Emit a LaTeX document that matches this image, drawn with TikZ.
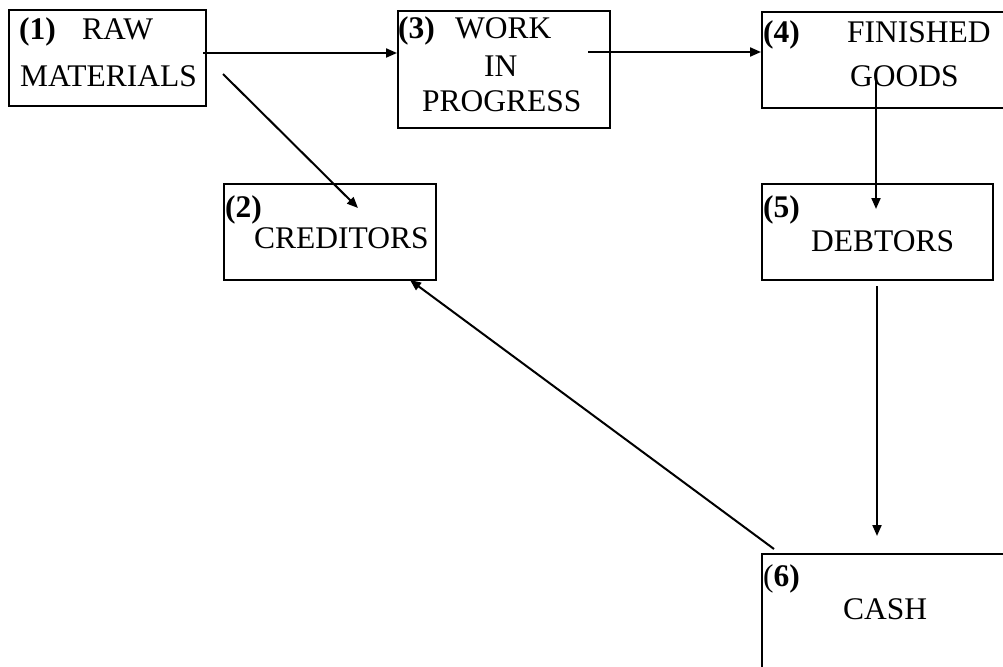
\documentclass[tikz,border=0pt]{standalone}
\usepackage{fontspec}
\setmainfont{Liberation Serif}
\usetikzlibrary{arrows.meta}
\tikzset{
  box/.style={draw=black, line width=2pt, anchor=north west, inner sep=0pt},
  txt/.style={anchor=base west, inner sep=0pt, font=\fontsize{31.5}{38}\selectfont},
  conn/.style={line width=2pt, -{Triangle[length=11pt,width=9pt]}},
}
\begin{document}
\begin{tikzpicture}[x=1pt,y=-1pt]
\clip (0,0) rectangle (1003,666);
\fill[white] (0,0) rectangle (1003,666);
% boxes
\node[box, minimum width=197pt, minimum height=96pt] (b1) at (8,9) {};
\node[box, minimum width=212pt, minimum height=117pt] (b3) at (397,10) {};
\node[box, minimum width=254pt, minimum height=96pt] (b4) at (761,11) {};
\node[box, minimum width=212pt, minimum height=96pt] (b2) at (223,183) {};
\node[box, minimum width=231pt, minimum height=96pt] (b5) at (761,183) {};
\node[box, minimum width=254pt, minimum height=147pt] (b6) at (761,553) {};
% texts
\node[txt] (t1n) at (19,40) {\textbf{(1)}};
\node[txt] (t1a) at (82,40) {RAW};
\node[txt] (t1b) at (20,87) {MATERIALS};
\node[txt] (t3n) at (398,39) {\textbf{(3)}};
\node[txt] (t3a) at (455,39) {WORK};
\node[txt] (t3b) at (484,77) {IN};
\node[txt] (t3c) at (422,112) {PROGRESS};
\node[txt] (t4n) at (763,43) {\textbf{(4)}};
\node[txt] (t4a) at (847,43) {FINISHED};
\node[txt] (t4b) at (850,87) {GOODS};
\node[txt] (t2n) at (225,217) {\textbf{(2)}};
\node[txt] (t2a) at (254,248) {CREDITORS};
\node[txt] (t5n) at (763,217) {\textbf{(5)}};
\node[txt] (t5a) at (811,251) {DEBTORS};
\node[txt] (t6n) at (763,586) {(\textbf{6)}};
\node[txt] (t6a) at (843,619) {CASH};
% connector end points
\coordinate (c13s) at (203,53);
\coordinate (c13e) at (397,53);
\coordinate (c12s) at (223,74);
\coordinate (c12e) at (358,208);
\coordinate (c34s) at (588,52);
\coordinate (c34e) at (761,52);
\coordinate (c45s) at (876,77);
\coordinate (c45e) at (876,209);
\coordinate (c56s) at (877,286);
\coordinate (c56e) at (877,536);
\coordinate (c62s) at (774,549);
\coordinate (c62e) at (410,280);
% connectors
\draw[conn] (c13s) -- (c13e);
\draw[conn] (c12s) -- (c12e);
\draw[conn] (c34s) -- (c34e);
\draw[conn] (c45s) -- (c45e);
\draw[conn] (c56s) -- (c56e);
\draw[conn] (c62s) -- (c62e);
\end{tikzpicture}
\end{document}
